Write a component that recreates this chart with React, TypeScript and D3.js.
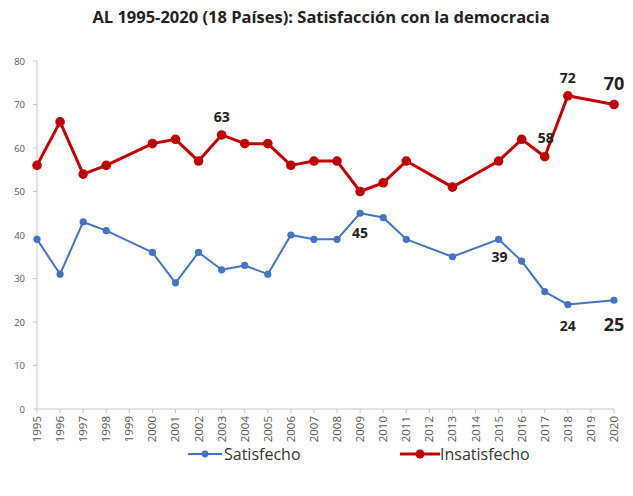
import React from "react";
import * as d3 from "d3";

const years = d3.range(1995, 2021);
const satYears = [1995, 1996, 1997, 1998, 2000, 2001, 2002, 2003, 2004, 2005, 2006, 2007, 2008, 2009, 2010, 2011, 2013, 2015, 2016, 2017, 2018, 2020];
const satisfecho = [39, 31, 43, 41, 36, 29, 36, 32, 33, 31, 40, 39, 39, 45, 44, 39, 35, 39, 34, 27, 24, 25];
const insatisfecho = [56, 66, 54, 56, 61, 62, 57, 63, 61, 61, 56, 57, 57, 50, 52, 57, 51, 57, 62, 58, 72, 70];
const yTicks = [0, 10, 20, 30, 40, 50, 60, 70, 80];

type Ann = { year: number; value: number; dx: number; dy: number; size: number };
const insAnn: Ann[] = [
  { year: 2003, value: 63, dx: 0, dy: -13, size: 14 },
  { year: 2017, value: 58, dx: 1, dy: -14, size: 14 },
  { year: 2018, value: 72, dx: 0, dy: -13, size: 14 },
  { year: 2020, value: 70, dx: 0, dy: -15, size: 18 },
];
const satAnn: Ann[] = [
  { year: 2009, value: 45, dx: 0, dy: 25, size: 14 },
  { year: 2015, value: 39, dx: 1, dy: 23, size: 14 },
  { year: 2018, value: 24, dx: 0, dy: 26, size: 14 },
  { year: 2020, value: 25, dx: 0, dy: 31, size: 18 },
];

const RED = "#c00000";
const BLUE = "#4472c4";
const FONT = "'Open Sans', 'Noto Sans', sans-serif";

export default function App() {
  const W = 633, H = 496;
  const x = d3.scaleLinear().domain([1995, 2020]).range([37, 614]);
  const y = d3.scaleLinear().domain([0, 80]).range([409, 61]);
  const line = d3.line<[number, number]>().x(d => x(d[0])).y(d => y(d[1]));
  const satPts = satYears.map((yr, i) => [yr, satisfecho[i]] as [number, number]);
  const insPts = satYears.map((yr, i) => [yr, insatisfecho[i]] as [number, number]);
  return (
    <svg width={W} height={H} style={{ position: "absolute", left: 0, top: 0, background: "#fff" }}>
      <text x={321} y={23} textAnchor="middle" fontFamily={FONT} fontWeight="bold" fontSize={16.5} fill="#222">
        AL 1995-2020 (18 Países): Satisfacción con la democracia
      </text>
      {/* y axis */}
      <line x1={x(1995)} x2={x(1995)} y1={y(80)} y2={y(0)} stroke="#c8c8c8" />
      {yTicks.map(t => (
        <g key={t}>
          <line x1={x(1995) - 4} x2={x(1995)} y1={y(t)} y2={y(t)} stroke="#c8c8c8" />
          <text x={25} y={y(t) + 3.5} textAnchor="end" fontFamily={FONT} fontSize={9.5} fill="#555">{t}</text>
        </g>
      ))}
      {/* x axis */}
      <line x1={x(1995)} x2={x(2020)} y1={y(0)} y2={y(0)} stroke="#c8c8c8" />
      {years.map(yr => (
        <g key={yr}>
          <line x1={x(yr)} x2={x(yr)} y1={y(0)} y2={y(0) + 4} stroke="#c8c8c8" />
          <text transform={`translate(${x(yr) + 4},${y(0) + 7}) rotate(-90)`} textAnchor="end" fontFamily={FONT} fontSize={11.5} fill="#555">{yr}</text>
        </g>
      ))}
      {/* series */}
      <path d={line(insPts) || ""} fill="none" stroke={RED} strokeWidth={3} strokeLinejoin="round" />
      {insPts.map(p => <circle key={"i" + p[0]} cx={x(p[0])} cy={y(p[1])} r={4.8} fill={RED} />)}
      <path d={line(satPts) || ""} fill="none" stroke={BLUE} strokeWidth={2} strokeLinejoin="round" />
      {satPts.map(p => <circle key={"s" + p[0]} cx={x(p[0])} cy={y(p[1])} r={3.6} fill={BLUE} />)}
      {[...insAnn, ...satAnn].map((a, i) => (
        <text key={i} x={x(a.year) + a.dx} y={y(a.value) + a.dy} textAnchor="middle" fontFamily={FONT} fontWeight="bold" fontSize={a.size} fill="#222">{a.value}</text>
      ))}
      {/* legend */}
      <line x1={188} x2={222} y1={454} y2={454} stroke={BLUE} strokeWidth={2} />
      <circle cx={205} cy={454} r={3.4} fill={BLUE} />
      <text x={224} y={460} fontFamily={FONT} fontSize={16} fill="#333">Satisfecho</text>
      <line x1={400} x2={440} y1={454} y2={454} stroke={RED} strokeWidth={3} />
      <circle cx={420} cy={454} r={4.5} fill={RED} />
      <text x={440} y={460} fontFamily={FONT} fontSize={16} fill="#333">Insatisfecho</text>
    </svg>
  );
}
